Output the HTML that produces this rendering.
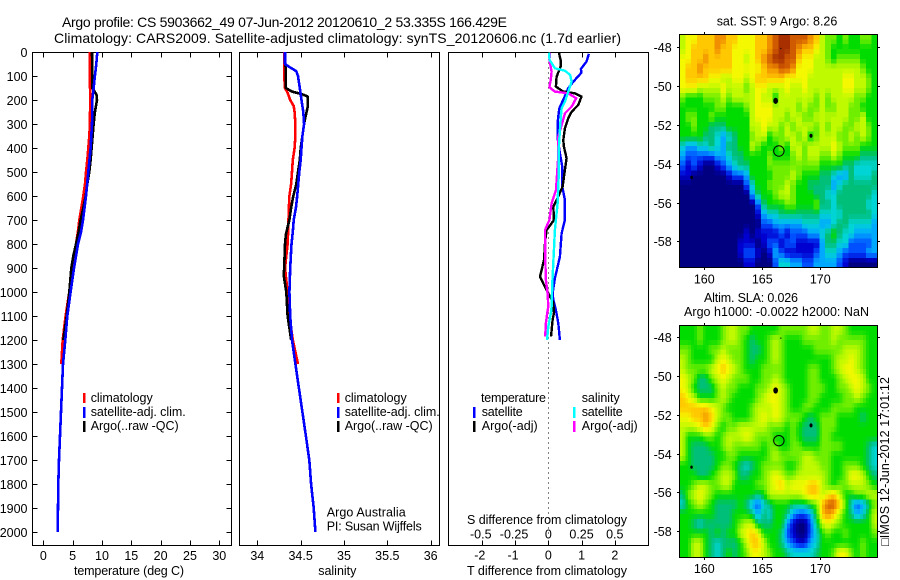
<!DOCTYPE html>
<html>
<head>
<meta charset="utf-8">
<title>Argo profile</title>
<style>
html,body{margin:0;padding:0;background:#fff;}
svg{display:block;}
text{font-family:"Liberation Sans",sans-serif;fill:#000;font-size:12.5px;}
.title{font-size:14px;}
</style>
</head>
<body>
<svg id="fig" xmlns="http://www.w3.org/2000/svg" width="900" height="580" viewBox="0 0 900 580">
<rect width="900" height="580" fill="#fff"/>
<text class="title" x="62" y="27" textLength="445" lengthAdjust="spacing">Argo profile: CS 5903662_49 07-Jun-2012 20120610_2 53.335S 166.429E</text>
<text class="title" x="54" y="43" textLength="567" lengthAdjust="spacing">Climatology: CARS2009. Satellite-adjusted climatology: synTS_20120606.nc (1.7d earlier)</text>

<g id="p1"></g>
<g id="p2"></g>
<g id="p3"></g>
<g id="m1"></g>
<g id="m2"></g>

<text x="129" y="575" text-anchor="middle" textLength="110" lengthAdjust="spacing">temperature (deg C)</text>
<text x="337.3" y="575" text-anchor="middle">salinity</text>
<text x="547" y="575" text-anchor="middle" textLength="160" lengthAdjust="spacing">T difference from climatology</text>
<text x="547" y="524" text-anchor="middle" textLength="160" lengthAdjust="spacing">S difference from climatology</text>

<text x="326.7" y="516.7" textLength="79" lengthAdjust="spacing">Argo Australia</text>
<text x="326.7" y="530.7" textLength="95" lengthAdjust="spacing">PI: Susan Wijffels</text>

<g>
<rect x="83" y="393" width="2.5" height="10" fill="#f00"/>
<rect x="83" y="407" width="2.5" height="11" fill="#00f"/>
<rect x="83" y="421" width="2.5" height="11" fill="#000"/>
<text x="90.7" y="402" textLength="62" lengthAdjust="spacing">climatology</text>
<text x="90.7" y="416" textLength="95" lengthAdjust="spacing">satellite-adj. clim.</text>
<text x="90.7" y="430" textLength="88" lengthAdjust="spacing">Argo(..raw -QC)</text>
</g>
<g>
<rect x="337" y="393" width="2.5" height="10" fill="#f00"/>
<rect x="337" y="407" width="2.5" height="11" fill="#00f"/>
<rect x="337" y="421" width="2.5" height="11" fill="#000"/>
<text x="344.7" y="402" textLength="62" lengthAdjust="spacing">climatology</text>
<text x="344.7" y="416" textLength="95" lengthAdjust="spacing">satellite-adj. clim.</text>
<text x="344.7" y="430" textLength="88" lengthAdjust="spacing">Argo(..raw -QC)</text>
</g>
<g>
<text x="481" y="402" textLength="65" lengthAdjust="spacing">temperature</text>
<rect x="473" y="407" width="2.5" height="11" fill="#00f"/>
<text x="481.7" y="416" textLength="41" lengthAdjust="spacing">satellite</text>
<rect x="473" y="421" width="2.5" height="11" fill="#000"/>
<text x="481.7" y="430" textLength="56" lengthAdjust="spacing">Argo(-adj)</text>
<text x="581.7" y="402" textLength="38" lengthAdjust="spacing">salinity</text>
<rect x="573" y="407" width="2.5" height="11" fill="#0ff"/>
<text x="581.7" y="416" textLength="41" lengthAdjust="spacing">satellite</text>
<rect x="573" y="421" width="2.5" height="11" fill="#f0f"/>
<text x="581.7" y="430" textLength="56" lengthAdjust="spacing">Argo(-adj)</text>
</g>

<text x="716.7" y="25.3" textLength="120.6" lengthAdjust="spacing">sat. SST: 9 Argo: 8.26</text>
<text x="704" y="302" textLength="94" lengthAdjust="spacing">Altim. SLA: 0.026</text>
<text x="684" y="316" textLength="185" lengthAdjust="spacing">Argo h1000: -0.0022 h2000: NaN</text>
<text transform="translate(889,546) rotate(-90)" textLength="169" lengthAdjust="spacing">&#9633;IMOS 12-Jun-2012 17:01:12</text>
</svg>

<script>
// ---------- profile axis ticks ----------
var depthTicks = [0,100,200,300,400,500,600,700,800,900,1000,1100,1200,1300,1400,1500,1600,1700,1800,1900,2000];
var tempTicks = [0,5,10,15,20,25,30];
var salTicks = [34,34.5,35,35.5,36];
var salTickLabels = ['34','34.5','35','35.5','36'];
var tDiffTicks = [-2,-1,0,1,2];
var tDiffTickLabels = ['-2','-1','0','1','2'];
var sDiffTicks = [-0.5,-0.25,0,0.25,0.5];
var sDiffTickLabels = ['-0.5','-0.25','0','0.25','0.5'];
var lonTicks = [160,165,170];
var latTicks = [-48,-50,-52,-54,-56,-58];

// ---------- temperature profiles (deg C) ----------
var tempClimDepth = [0,100,200,300,350,400,450,500,550,600,650,700,750,800,900,1000,1100,1200,1300];
var tempClimValues = [7.95,7.95,8.0,7.95,7.84,7.67,7.5,7.27,7.1,6.82,6.48,6.14,5.9,5.57,4.94,4.43,3.8,3.3,3.07];
var tempArgoDepth = [0,100,150,160,180,200,250,300,350,400,450,500,550,600,650,700,750,800,850,900,1000,1100,1200];
var tempArgoValues = [8.3,8.35,8.35,8.64,9.09,9.15,8.8,8.58,8.41,8.24,8.07,7.84,7.5,7.22,6.82,6.36,6.02,5.57,5.11,4.77,4.43,3.98,3.41];
var tempSatDepth = [0,50,100,150,200,250,300,400,500,600,700,750,800,900,1000,1100,1200,1300,1400,1500,1600,1700,1800,1900,2000];
var tempSatValues = [9.2,9.03,8.8,8.58,8.35,8.35,8.3,8.07,7.67,7.27,6.76,6.42,5.91,5.23,4.66,4.09,3.75,3.35,3.18,3.01,2.84,2.67,2.56,2.5,2.44];

// ---------- salinity profiles ----------
var salClimDepth = [0,100,150,170,200,225,250,300,350,400,450,500,550,600,650,700,750,800,900,1000,1100,1200,1250,1300];
var salClimValues = [34.31,34.31,34.32,34.35,34.38,34.42,34.43,34.44,34.44,34.43,34.41,34.4,34.39,34.37,34.365,34.36,34.355,34.35,34.32,34.35,34.37,34.41,34.44,34.47];
var salArgoDepth = [0,100,150,165,175,185,230,280,300,350,400,450,500,550,600,650,700,730,760,800,900,930,1000,1100,1150,1200];
var salArgoValues = [34.32,34.33,34.33,34.4,34.51,34.58,34.58,34.55,34.54,34.52,34.5,34.49,34.47,34.45,34.415,34.39,34.37,34.35,34.33,34.32,34.31,34.305,34.335,34.35,34.37,34.39];
var salSatDepth = [0,50,60,80,100,150,200,250,300,350,400,450,500,600,650,700,750,800,900,1000,1100,1200,1300,1400,1500,1600,1700,1800,1900,2000];
var salSatValues = [34.32,34.32,34.36,34.45,34.47,34.49,34.51,34.53,34.54,34.52,34.51,34.5,34.485,34.46,34.445,34.42,34.41,34.395,34.38,34.37,34.38,34.4,34.44,34.48,34.52,34.56,34.6,34.62,34.65,34.67];

// ---------- difference profiles ----------
var tDiffSatDepth = [8,40,71,86,124,151,193,235,283,367,422,478,561,617,700,756,853,943,1006,1033,1075,1130,1200];
var tDiffSatValues = [1.22,1.15,0.98,1.0,0.75,0.6,0.47,0.33,0.29,0.29,0.35,0.42,0.42,0.5,0.5,0.4,0.35,0.2,0.13,0.15,0.23,0.3,0.35];
var tDiffArgoDepth = [3,33,61,103,144,165,172,186,221,249,276,318,367,394,443,492,561,617,644,700,742,797,867,936,971,1006,1045,1085,1117,1186];
var tDiffArgoValues = [0.32,0.37,0.37,0.25,0.23,0.45,0.8,1.0,0.9,0.7,0.6,0.5,0.45,0.47,0.55,0.5,0.43,0.25,0.15,0.17,-0.05,-0.1,-0.13,-0.25,-0.13,0,0.15,0.17,0.13,0.08];
var sDiffSatDepth = [3,33,68,78,96,124,165,207,235,297,394,492,631,742,853,964,1061,1085,1144,1200];
var sDiffSatValues = [0.005,0.01,0.05,0.125,0.165,0.175,0.15,0.125,0.1,0.09,0.08,0.08,0.07,0.05,0.04,0.03,0.025,0.02,0,-0.01];
var sDiffArgoDepth = [3,33,82,117,147,165,172,193,228,256,304,353,436,492,575,631,700,742,853,950,1006,1061,1089,1130,1186];
var sDiffArgoValues = [0.0125,0.008,0.025,0.018,0.008,0.05,0.15,0.21,0.175,0.125,0.1,0.075,0.075,0.068,0.058,0.025,0.008,-0.025,-0.023,-0.018,-0.005,0,-0.008,-0.018,-0.023];

// ---------- map fields: colour levels 0 (coldest/lowest) .. 13 (warmest/highest), rows north to south ----------
var sstLevels = [
[8,9,9,10,10,10,11,11,10,10,9,9,9,10,10,11,12,13,13,12,12,12,11,10,8,7,7,6,7,6,6,7,7,6],
[8,9,10,10,10,10,11,10,10,9,9,9,9,10,10,11,12,13,13,12,11,10,10,9,8,7,6,6,6,6,6,6,6,6],
[9,9,10,10,11,10,10,10,10,9,9,8,9,10,11,12,13,13,12,12,10,9,9,8,8,7,6,7,7,7,7,6,6,6],
[9,10,10,11,10,10,10,10,10,9,9,9,9,9,10,11,11,12,12,11,9,9,9,8,8,8,8,8,8,8,8,7,6,6],
[9,10,10,10,10,9,9,8,8,9,9,8,9,10,10,10,10,10,9,9,9,9,8,8,8,8,8,8,9,9,8,8,7,6],
[9,9,9,8,8,8,8,9,8,8,8,7,8,9,9,8,8,8,9,8,8,9,8,8,8,8,8,8,9,9,8,8,7,6],
[7,6,6,6,7,7,7,8,7,8,8,8,8,9,8,8,6,8,8,8,8,8,8,7,8,7,8,8,8,8,7,7,6,6],
[6,6,6,6,6,6,7,7,6,6,6,7,8,9,9,9,8,8,8,8,7,8,7,7,8,7,7,8,8,7,7,6,6,6],
[6,7,7,6,6,7,6,6,6,6,6,6,8,9,9,9,8,8,7,8,8,7,7,8,8,8,8,8,8,7,7,8,6,6],
[6,6,7,6,6,5,5,5,6,6,6,6,8,8,9,8,8,7,8,7,8,8,8,7,8,7,8,8,7,7,8,8,7,6],
[6,6,6,6,5,5,4,3,4,5,6,6,7,8,8,6,7,7,8,8,7,8,6,7,8,8,8,7,7,8,7,8,7,6],
[4,3,3,4,4,5,4,3,5,5,6,6,8,7,6,6,6,7,6,8,8,7,8,8,8,8,9,8,7,7,7,6,6,6],
[3,2,2,2,2,2,3,3,4,5,5,6,6,6,6,7,6,6,6,7,8,7,8,8,7,7,8,7,6,6,6,5,5,5],
[2,1,2,1,0,0,1,2,3,4,5,5,6,6,6,7,7,7,7,7,7,7,7,7,6,6,6,6,5,5,4,4,4,4],
[1,1,0,0,0,0,0,0,1,2,2,3,6,6,6,6,7,7,7,8,7,6,6,6,5,5,4,3,3,5,4,4,4,5],
[0,0,0,0,0,0,0,0,0,0,0,2,4,6,6,7,7,7,8,7,6,6,5,5,5,5,3,4,5,5,5,5,5,5],
[0,0,0,0,0,0,0,0,0,0,0,0,3,5,6,6,7,8,8,7,6,6,6,5,5,4,4,5,5,5,5,5,5,4],
[0,0,0,0,0,0,0,0,0,0,0,0,0,2,5,6,6,6,7,7,6,6,6,7,5,5,4,5,5,5,5,5,4,4],
[0,0,0,0,0,0,0,0,0,0,0,0,0,1,3,4,4,5,5,5,5,5,5,5,4,4,4,4,5,5,5,5,5,4],
[0,0,0,0,0,0,0,0,0,0,0,0,0,0,2,2,3,3,3,3,3,4,4,4,3,3,4,5,5,4,4,4,4,3],
[0,0,0,0,0,0,0,0,0,0,0,1,0,1,1,1,1,2,1,2,2,2,3,3,4,5,6,5,4,4,3,3,3,3],
[0,0,0,0,0,0,0,0,0,0,1,1,1,0,1,2,2,1,2,2,1,1,1,1,3,5,5,4,4,2,2,2,2,3],
[0,0,0,0,0,0,0,0,0,0,1,2,2,1,0,1,3,2,1,1,1,1,1,2,3,4,4,3,2,2,2,2,3,3],
[0,0,0,0,0,0,0,0,0,0,0,1,1,0,0,0,2,4,4,3,3,2,2,3,3,3,3,2,1,0,0,0,0,0]
];
var slaLevels = [
[6,6,6,7,6,6,6,7,8,8,7,7,6,6,6,6,6,7,7,7,7,7,8,8,7,7,8,8,7,6,6,6,6,6],
[6,6,6,7,6,6,6,7,8,8,7,6,5,6,6,7,8,7,6,6,6,7,7,7,7,7,8,7,7,7,7,7,6,6],
[7,7,6,6,6,7,7,8,7,7,7,6,5,5,6,7,8,7,6,6,6,6,6,7,7,7,7,7,8,8,8,7,6,6],
[8,7,6,6,6,6,8,9,8,7,7,6,5,6,6,7,8,7,6,6,6,6,6,6,6,6,7,8,8,9,8,7,6,6],
[8,7,7,7,7,8,9,10,9,8,7,6,6,6,7,7,7,7,6,6,6,6,7,7,6,6,7,8,9,9,8,7,6,6],
[9,8,7,5,5,7,8,9,8,7,7,7,6,6,7,7,8,7,6,6,6,6,7,7,6,6,6,7,8,9,9,8,6,6],
[9,8,6,5,5,5,7,8,7,7,6,6,6,7,7,8,9,8,7,6,6,6,7,7,7,6,6,7,7,8,9,8,7,6],
[10,9,8,6,6,6,7,8,7,6,6,6,6,7,8,9,9,8,7,6,6,6,7,7,6,6,6,6,7,7,8,7,6,6],
[10,10,10,10,10,9,8,7,6,6,6,6,7,8,8,8,9,8,7,6,6,7,7,6,6,6,7,7,7,7,6,6,6,6],
[9,9,10,10,11,10,8,7,7,6,6,6,7,8,9,8,9,8,7,7,7,6,5,6,7,7,7,6,6,6,6,5,6,6],
[8,8,8,9,10,9,7,6,7,7,8,8,8,8,8,7,7,7,6,7,6,5,5,5,7,7,7,6,6,6,6,6,6,6],
[8,6,6,6,7,7,6,7,8,8,8,9,8,7,7,7,6,6,6,7,6,5,5,5,7,7,6,6,6,6,6,6,6,6],
[8,6,5,5,5,6,6,7,8,7,7,7,7,7,6,7,7,6,6,7,7,6,6,6,7,7,7,7,6,6,6,6,5,4],
[8,6,5,5,5,5,6,6,7,7,6,6,6,6,6,7,8,7,7,7,7,8,8,7,7,7,6,6,6,6,6,6,5,4],
[6,6,5,5,5,5,6,7,7,6,5,4,5,6,7,7,7,7,6,6,7,8,8,8,7,7,6,6,7,7,7,6,5,4],
[6,6,6,5,5,6,7,8,8,7,5,5,6,6,7,8,9,8,7,7,8,8,8,8,8,7,6,6,7,9,9,8,6,5],
[6,6,7,8,8,7,7,8,8,6,6,6,6,7,7,8,9,10,8,9,9,9,10,10,8,7,6,7,7,8,8,8,7,6],
[5,7,8,9,8,7,6,6,6,6,6,6,6,5,6,8,8,8,8,8,8,9,10,10,8,9,10,8,6,6,7,7,8,8],
[4,6,7,8,7,6,5,5,5,5,6,5,3,2,4,5,6,6,6,5,5,5,6,7,10,12,12,10,7,4,2,3,5,7],
[6,6,6,6,6,6,5,5,5,6,6,6,5,3,5,4,6,6,5,3,2,2,3,6,10,11,10,8,6,5,3,4,6,8],
[6,6,5,4,5,5,5,5,5,6,7,8,8,5,5,5,6,6,3,1,0,0,2,5,8,9,8,7,6,6,6,6,6,8],
[6,6,6,6,6,5,6,5,6,6,8,9,10,9,6,6,6,5,2,1,0,0,2,4,6,7,6,6,7,6,6,6,6,7],
[6,6,8,8,6,5,4,5,5,5,6,8,10,10,8,6,6,5,3,2,1,1,3,4,6,6,6,6,6,6,6,7,6,6],
[6,6,8,8,6,5,4,5,6,5,6,7,9,9,8,7,6,6,5,4,4,4,4,5,6,6,7,9,9,7,6,7,6,6]
];
var floatLons = [166.15,169.2,158.9,166.6];
var floatLats = [-50.75,-52.55,-54.7,-48.05];
var floatSizes = [2.6,1.7,1.4,0.6];
var argoLon = [166.429];
var argoLat = [-53.335];

var NS = 'http://www.w3.org/2000/svg';
var colourStops = [[0,0,128],[0,0,208],[0,80,255],[0,168,255],[0,212,212],[0,191,120],[0,220,0],[112,238,0],[192,250,0],[244,248,0],[255,200,0],[240,144,0],[208,90,0],[168,48,0]];

function make(parent, tag, attrs) {
  var el = document.createElementNS(NS, tag);
  for (var k in attrs) el.setAttribute(k, attrs[k]);
  parent.appendChild(el);
  return el;
}
function levelColour(v) {
  var i = Math.max(0, Math.min(colourStops.length - 2, Math.floor(v)));
  var f = Math.max(0, Math.min(1, v - i));
  var a = colourStops[i], b = colourStops[i + 1];
  return 'rgb(' + Math.round(a[0] + (b[0] - a[0]) * f) + ',' + Math.round(a[1] + (b[1] - a[1]) * f) + ',' + Math.round(a[2] + (b[2] - a[2]) * f) + ')';
}
function sampleField(levels, u, v) {
  // u, v are fractional cell coordinates measured from cell centres
  var rows = levels.length, cols = levels[0].length;
  var r0 = Math.max(0, Math.min(rows - 1, Math.floor(v)));
  var r1 = Math.min(rows - 1, r0 + 1);
  var c0 = Math.max(0, Math.min(cols - 1, Math.floor(u)));
  var c1 = Math.min(cols - 1, c0 + 1);
  var fu = Math.max(0, Math.min(1, u - c0));
  var fv = Math.max(0, Math.min(1, v - r0));
  return (levels[r0][c0] * (1 - fu) + levels[r0][c1] * fu) * (1 - fv) + (levels[r1][c0] * (1 - fu) + levels[r1][c1] * fu) * fv;
}

// ---------- profile panels ----------
var depthScale = function (d) { return 52 + d * 0.24; };
var tempScale = function (t) { return 43.3 + t * 5.867; };
var salScale = function (s) { return 257.3 + (s - 34) * 86.7; };
var tDiffScale = function (t) { return 548.3 + t * 33.25; };
var sDiffScale = function (s) { return 548.3 + s * 133; };

function frame(g, x0, x1, y0, y1) {
  var r = make(g, 'rect', {x: x0, y: y0, width: x1 - x0, height: y1 - y0, fill: 'none', stroke: '#000', 'stroke-width': 1, 'shape-rendering': 'crispEdges'});
  
  
}
function tickLine(g, x1, y1, x2, y2) {
  var l = make(g, 'line', {x1: x1, y1: y1, x2: x2, y2: y2, stroke: '#000', 'stroke-width': 1, 'shape-rendering': 'crispEdges'});
  
  
}
function label(g, str, x, y, anchor) {
  var t = make(g, 'text', {x: x, y: y, 'text-anchor': anchor});
  t.textContent = str;
  
  
}
function profile(g, xs, ys, xScale, colour, width, name) {
  var pts = [];
  for (var i = 0; i < xs.length; i++) {
    pts.push(xScale(xs[i]).toFixed(1) + ',' + depthScale(ys[i]).toFixed(1));
  }
  var p = make(g, 'polyline', {points: pts.join(' '), fill: 'none', stroke: colour, 'stroke-width': width, 'stroke-linejoin': 'round', 'shape-rendering': 'crispEdges'});
  
  
}

var p1 = document.getElementById('p1');
var p2 = document.getElementById('p2');
var p3 = document.getElementById('p3');
var TOP = 52.5, BOT = 545.5;

frame(p1, 32.5, 231.5, TOP, BOT);
depthTicks.forEach(function (d) {
  var y = Math.round(depthScale(d)) + 0.5;
  tickLine(p1, 32.5, y, 37.5, y);
  tickLine(p1, 226.5, y, 231.5, y);
  label(p1, String(d), 27.5, y + 4.5, 'end');
});
tempTicks.forEach(function (t) {
  var x = Math.round(tempScale(t)) + 0.5;
  tickLine(p1, x, TOP, x, TOP + 5);
  tickLine(p1, x, BOT, x, BOT - 5);
  label(p1, String(t), tempScale(t), 560, 'middle');
});
profile(p1, tempClimValues, tempClimDepth, tempScale, '#f00', 2.6, 'temperature-climatology-line');
profile(p1, tempArgoValues, tempArgoDepth, tempScale, '#000', 2.6, 'temperature-argo-line');
profile(p1, tempSatValues, tempSatDepth, tempScale, '#00f', 2.6, 'temperature-satellite-line');

frame(p2, 239.5, 439.5, TOP, BOT);
salTicks.forEach(function (s, i) {
  var x = Math.round(salScale(s)) + 0.5;
  tickLine(p2, x, TOP, x, TOP + 5);
  tickLine(p2, x, BOT, x, BOT - 5);
  label(p2, salTickLabels[i], salScale(s), 560, 'middle');
});
profile(p2, salClimValues, salClimDepth, salScale, '#f00', 2.6, 'salinity-climatology-line');
profile(p2, salArgoValues, salArgoDepth, salScale, '#000', 2.6, 'salinity-argo-line');
profile(p2, salSatValues, salSatDepth, salScale, '#00f', 2.6, 'salinity-satellite-line');

frame(p3, 448.5, 648.5, TOP, BOT);
var zero = make(p3, 'line', {x1: 548.5, y1: TOP, x2: 548.5, y2: BOT, stroke: '#000', 'stroke-width': 1, 'stroke-dasharray': '1 4', 'shape-rendering': 'crispEdges'});


tDiffTicks.forEach(function (t, i) {
  var x = Math.round(tDiffScale(t)) + 0.5;
  tickLine(p3, x, TOP, x, TOP + 5);
  tickLine(p3, x, BOT, x, BOT - 5);
  label(p3, tDiffTickLabels[i], tDiffScale(t) - (t < 0 ? 2 : 0), 559.5, 'middle');
});
sDiffTicks.forEach(function (s, i) {
  label(p3, sDiffTickLabels[i], sDiffScale(s) - (s < 0 ? 1 : 0), 538.7, 'middle');
});
profile(p3, tDiffSatValues, tDiffSatDepth, tDiffScale, '#00f', 2.4, 't-difference-satellite-line');
profile(p3, tDiffArgoValues, tDiffArgoDepth, tDiffScale, '#000', 2.4, 't-difference-argo-line');
profile(p3, sDiffArgoValues, sDiffArgoDepth, sDiffScale, '#f0f', 2.4, 's-difference-argo-line');
profile(p3, sDiffSatValues, sDiffSatDepth, sDiffScale, '#0ff', 2.4, 's-difference-satellite-line');

// ---------- maps ----------
function drawMap(g, levels, top, bottom, latTop, labelY, prefix, subCols, subRows) {
  var left = 679.5, right = 877.5;
  var lonScale = function (lon) { return 704.3 + (lon - 160) * 11.6; };
  var latScale = function (lat) { return top + (latTop - lat) * 19.4; };
  var rows = levels.length * subRows;
  var cols = levels[0].length * subCols;
  var cw = (right - left) / cols;
  var ch = (bottom - top) / rows;
  for (var r = 0; r < rows; r++) {
    for (var c = 0; c < cols; c++) {
      var u = (c + 0.5) / subCols - 0.5;
      var v = (r + 0.5) / subRows - 0.5;
      var cell = make(g, 'rect', {
        x: (left + c * cw).toFixed(2),
        y: (top + r * ch).toFixed(2),
        width: (cw + 0.4).toFixed(2),
        height: (ch + 0.4).toFixed(2),
        fill: levelColour(sampleField(levels, u, v)),
        'shape-rendering': 'crispEdges'
      });
      
      
    }
  }
  frame(g, left, right, top, bottom);
  lonTicks.forEach(function (lon) {
    var x = Math.round(lonScale(lon)) + 0.5;
    tickLine(g, x, top, x, top - 2.5);
    tickLine(g, x, bottom, x, bottom + 2.5);
    label(g, String(lon), lonScale(lon), labelY, 'middle');
  });
  latTicks.forEach(function (lat) {
    var y = Math.round(latScale(lat)) + 0.5;
    tickLine(g, left, y, left - 2.5, y);
    tickLine(g, right, y, right + 2.5, y);
    label(g, String(lat), 671.7, y + 4.5, 'end');
  });
  floatLons.forEach(function (lon, i) {
    var m = make(g, 'ellipse', {cx: lonScale(lon), cy: latScale(floatLats[i]), rx: floatSizes[i] * 0.9, ry: floatSizes[i] * 1.2, fill: '#000'});
    
    
  });
  var c0 = make(g, 'circle', {cx: lonScale(argoLon[0]), cy: latScale(argoLat[0]), r: 5.2, fill: 'none', stroke: '#000', 'stroke-width': 1});
  
  
}
drawMap(document.getElementById('m1'), sstLevels, 34.5, 267.5, -47.33, 283.5, 'sst', 1, 2);
drawMap(document.getElementById('m2'), slaLevels, 325.5, 557.5, -47.4, 573, 'sla', 2, 2);
</script>
</body>
</html>
